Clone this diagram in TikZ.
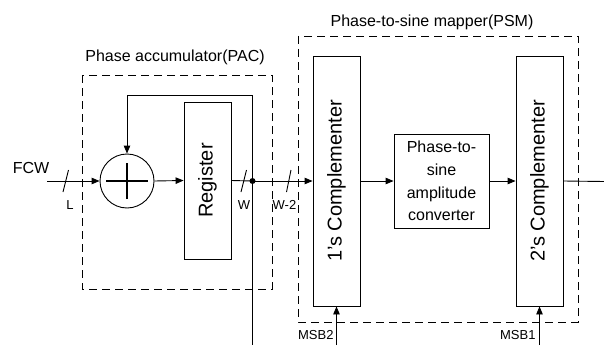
\documentclass[tikz,border=0pt]{standalone}
\usepackage{fontspec}
\setmainfont{Liberation Sans}
\usetikzlibrary{arrows.meta}
\begin{document}
\begin{tikzpicture}[x=1pt,y=-1pt,
  line width=0.9pt,
  arr/.style={-{Triangle[length=8pt,width=6.5pt]}},
  blk/.style={draw,line width=0.9pt,inner sep=0pt,minimum width=47pt},
  grp/.style={draw,dash pattern=on 8pt off 5pt,line width=0.9pt},
  title/.style={font=\fontsize{16}{19}\selectfont},
  lbl/.style={font=\fontsize{13}{15}\selectfont,inner sep=0pt},
  slash/.style={line width=0.9pt}]
\useasboundingbox (0,0) rectangle (604,345);
% group boxes
\draw[grp] (82,75) rectangle (272,289);
\draw[grp] (298,36) rectangle (578,322);
\node[title] (pactitle) at (175,57) {Phase accumulator(PAC)};
\node[title] (psmtitle) at (432,22) {Phase-to-sine mapper(PSM)};
% blocks
\node[draw,circle,minimum size=54pt,inner sep=0pt] (add) at (127,181) {};
\draw[line width=1.6pt] ([xshift=-21pt]add.center) -- ([xshift=21pt]add.center);
\draw[line width=1.6pt] ([yshift=-18pt]add.center) -- ([yshift=18pt]add.center);
\node[blk,minimum height=157pt] (reg) at (207.5,180.5)
  {\rotatebox{90}{\fontsize{20}{24}\selectfont Register}};
\node[blk,minimum height=250pt] (c1) at (336.5,181)
  {\rotatebox{90}{\fontsize{20}{24}\selectfont 1\char"27 s Complementer}};
\node[blk,minimum height=250pt] (c2) at (539.5,181)
  {\rotatebox{90}{\fontsize{20}{24}\selectfont 2\char"27 s Complementer}};
\node[draw,inner sep=0pt,minimum width=95pt,minimum height=94pt,align=center,
  font=\fontsize{16}{22.7}\selectfont] (p2s) at (441.5,181)
  {Phase-to-\\sine\\amplitude\\converter};
% coordinates
\node[title] (fcw) at (31,168) {FCW};
\coordinate (fcwin) at (47,181);
\coordinate (jn) at (252.5,181);
\coordinate (fb) at (252.5,95);
\coordinate (bot) at (252.5,345);
\coordinate (out) at (604,181.5);
\coordinate (msb2b) at (336.5,345);
\coordinate (msb1b) at (539.5,345);
% connectors
\draw[arr] (fcwin) -- (add.west);
\draw[arr] (add.east) -- (reg.west);
\draw (reg.east) -- (jn);
\draw[arr] (jn) -- (c1.west);
\draw[arr] (jn) -- (fb) -| (add.north);
\draw (jn) -- (bot);
\fill (jn) circle (3pt);
\draw[arr] (c1.east) -- (p2s.west);
\draw[arr] (p2s.east) -- (c2.west);
\draw (c2.east) -- (out);
\draw[arr] (msb2b) -- (c1.south);
\draw[arr] (msb1b) -- (c2.south);
% bus slashes
\draw[slash] (63,192) -- (68.5,170);
\draw[slash] (241,192) -- (246.5,170);
\draw[slash] (286.5,192) -- (291,170);
% labels
\node[lbl] (lL) at (70,205) {L};
\node[lbl] (lW) at (244,205) {W};
\node[lbl] (lW2) at (284.5,205) {W-2};
\node[lbl,anchor=east] (lmsb2) at (334,335) {MSB2};
\node[lbl,anchor=east] (lmsb1) at (536,335) {MSB1};
\end{tikzpicture}
\end{document}
